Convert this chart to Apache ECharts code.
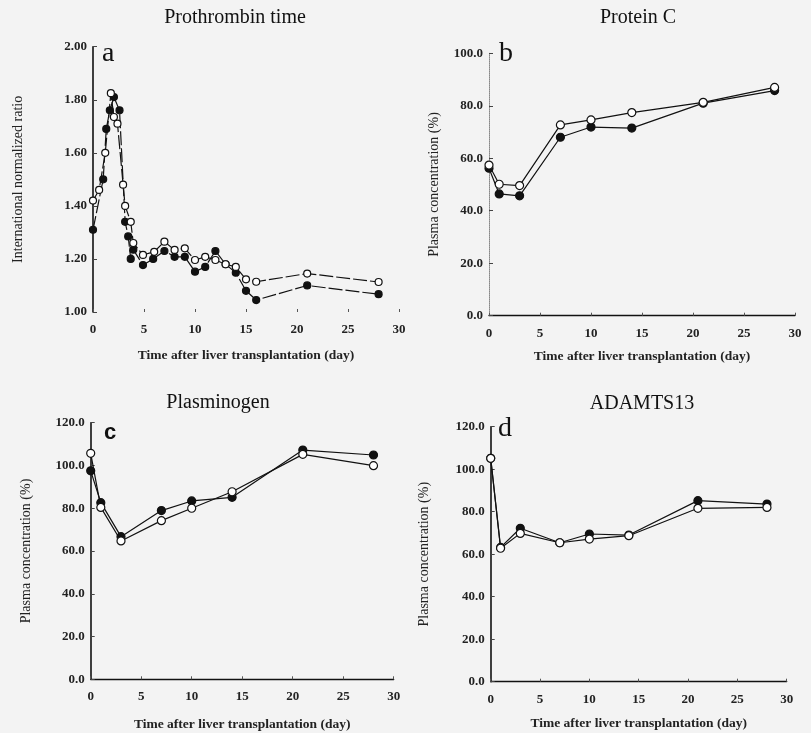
<!DOCTYPE html>
<html><head><meta charset="utf-8">
<script src="https://cdn.jsdelivr.net/npm/echarts@6/dist/echarts.min.js"></script>
<style>html,body{margin:0;padding:0;background:#f3f3f3}#c{width:811px;height:733px}</style>
</head><body><div id="c"></div>
<script>
// ---- data ----
const ptDaysFilled = [0, 1.0, 1.3, 1.65, 2.05, 2.6, 3.15, 3.45, 3.7, 3.95, 4.9, 5.9, 7, 8, 9, 10, 11, 12, 13, 14, 15, 16, 21, 28];
const ptFilled     = [1.31, 1.50, 1.69, 1.76, 1.81, 1.76, 1.34, 1.285, 1.20, 1.235, 1.177, 1.20, 1.23, 1.208, 1.208, 1.152, 1.17, 1.23, 1.18, 1.148, 1.08, 1.045, 1.10, 1.067];
const ptDaysOpen   = [0, 0.6, 1.2, 1.75, 2.05, 2.4, 2.95, 3.15, 3.7, 3.95, 4.9, 6, 7, 8, 9, 10, 11, 12, 13, 14, 15, 16, 21, 28];
const ptOpen       = [1.42, 1.46, 1.60, 1.825, 1.735, 1.71, 1.48, 1.40, 1.34, 1.26, 1.215, 1.227, 1.265, 1.234, 1.24, 1.196, 1.208, 1.196, 1.18, 1.17, 1.123, 1.114, 1.145, 1.113];

const days = [0, 1, 3, 7, 10, 14, 21, 28];
const pcFilled   = [56.2, 46.4, 45.7, 68.0, 71.9, 71.5, 81.0, 85.8];
const pcOpen     = [57.4, 50.1, 49.6, 72.7, 74.6, 77.4, 81.3, 87.0];
const plgFilled  = [97.5, 82.6, 66.7, 78.9, 83.4, 85.1, 107.2, 104.9];
const plgOpen    = [105.7, 80.4, 64.7, 74.2, 80.0, 87.7, 105.2, 99.9];
const adFilled   = [105.1, 63.2, 72.2, 65.4, 69.5, 69.0, 85.2, 83.6];
const adOpen     = [105.1, 62.8, 69.8, 65.4, 67.1, 68.7, 81.6, 82.0];

const xTicks = [0, 5, 10, 15, 20, 25, 30];
const panelTitles = ['Prothrombin time', 'Protein C', 'Plasminogen', 'ADAMTS13'];
const panelLetters = ['a', 'b', 'c', 'd'];
const yNames = ['International normalized ratio', 'Plasma concentration (%)', 'Plasma concentration (%)', 'Plasma concentration (%)'];
const xName = 'Time after liver transplantation (day)';

// ---- chart ----
const FONT = 'Liberation Serif';
const zip = (xs, ys) => xs.map((x, i) => [x, ys[i]]);

const grids = [
  {left: 93, top: 46.7, width: 306, height: 265.3},
  {left: 489, top: 53.3, width: 306, height: 262.4},
  {left: 90.7, top: 422.7, width: 303, height: 256.6},
  {left: 490.7, top: 426.7, width: 296, height: 255}
];
const yCfg = [
  {min: 1.0, max: 2.0, interval: 0.2, dec: 2, gap: 68},
  {min: 0, max: 100, interval: 20, dec: 1, gap: 48},
  {min: 0, max: 120, interval: 20, dec: 1, gap: 57},
  {min: 0, max: 120, interval: 20, dec: 1, gap: 59}
];
const xGaps = [37, 34, 38, 35];

const xAxes = grids.map((g, i) => ({
  gridIndex: i, type: 'value', min: 0, max: 30, interval: 5,
  name: xName, nameLocation: 'middle', nameGap: xGaps[i],
  nameTextStyle: {fontFamily: FONT, fontSize: 13.5, fontWeight: 'bold', color: '#222'},
  axisLine: {show: i !== 0, lineStyle: {color: '#111', width: 1.3}},
  axisTick: {show: true, inside: true, length: 3, lineStyle: {color: '#555'}},
  axisLabel: {fontFamily: FONT, fontSize: 13, fontWeight: 'bold', color: '#222', margin: 11},
  splitLine: {show: false}
}));
const yAxes = grids.map((g, i) => ({
  gridIndex: i, type: 'value', min: yCfg[i].min, max: yCfg[i].max, interval: yCfg[i].interval,
  name: yNames[i], nameLocation: 'middle', nameGap: yCfg[i].gap, nameRotate: 90,
  nameTextStyle: {fontFamily: FONT, fontSize: 14, color: '#222'},
  axisLine: {show: true, lineStyle: i === 1 ? {color: '#888', width: 1, type: 'dotted'} : {color: '#111', width: 1.6}},
  axisTick: {show: true, inside: true, length: 4, lineStyle: {color: '#444'}},
  axisLabel: {fontFamily: FONT, fontSize: 13, fontWeight: 'bold', color: '#222', margin: 6,
    formatter: v => v.toFixed(yCfg[i].dec)},
  splitLine: {show: false}
}));

function mk(idx, data, filled, size, dash) {
  return {
    type: 'line', xAxisIndex: idx, yAxisIndex: idx, data: data,
    symbol: 'circle', symbolSize: size, showSymbol: true,
    lineStyle: {color: '#111', width: 1.2, type: dash || 'solid'},
    itemStyle: {color: filled ? '#111' : '#fff', borderColor: '#111', borderWidth: 1.2},
    emphasis: {disabled: true}, animation: false, z: filled ? 2 : 3
  };
}
const series = [
  mk(0, zip(ptDaysFilled, ptFilled), true, 7, [14, 3]),
  mk(0, zip(ptDaysOpen, ptOpen), false, 7, [14, 3]),
  mk(1, zip(days, pcFilled), true, 8),
  mk(1, zip(days, pcOpen), false, 8),
  mk(2, zip(days, plgFilled), true, 8),
  mk(2, zip(days, plgOpen), false, 8),
  mk(3, zip(days, adFilled), true, 8),
  mk(3, zip(days, adOpen), false, 8)
];

const titlePos = [[235, 18], [638, 18], [218, 403], [642, 404]];
const letterPos = [[102, 40], [499, 40], [104, 422], [498, 415]];
const graphic = [];
panelTitles.forEach((t, i) => graphic.push({type: 'text', x: titlePos[i][0], y: titlePos[i][1],
  style: {text: t, font: '20px "' + FONT + '"', fill: '#111', textAlign: 'center', textVerticalAlign: 'middle'}}));
panelLetters.forEach((t, i) => graphic.push({type: 'text', x: letterPos[i][0], y: letterPos[i][1],
  style: {text: t, font: (i === 2 ? 'bold 22px "Liberation Sans"' : '28px "' + FONT + '"'), fill: '#111'}}));

const chart = echarts.init(document.getElementById('c'), null, {renderer: 'canvas'});
chart.setOption({
  backgroundColor: '#f3f3f3',
  animation: false,
  grid: grids,
  xAxis: xAxes,
  yAxis: yAxes,
  series: series,
  graphic: graphic
});
</script></body></html>
